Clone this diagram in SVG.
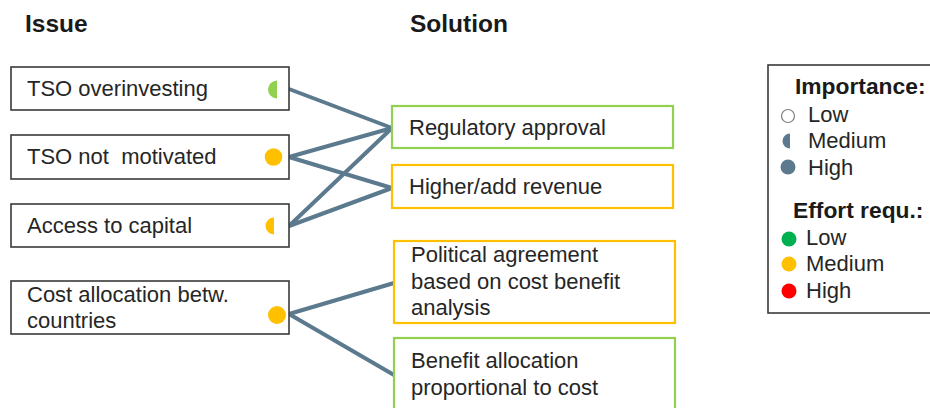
<svg xmlns="http://www.w3.org/2000/svg" width="930" height="408" viewBox="0 0 930 408">
<style>
text{font-family:"Liberation Sans",Arial,sans-serif;font-size:22px;fill:#262626}
.title{font-weight:bold;font-size:24.5px;fill:#1a1a1a}
.hdr{font-weight:bold;font-size:22.8px;fill:#1a1a1a}
.issue{fill:#fff;stroke:#3a3a3a;stroke-width:1.6}
.green{fill:#fff;stroke:#92d050;stroke-width:2.2}
.orange{fill:#fff;stroke:#ffc000;stroke-width:2.2}
.conn line{stroke:#5b7a8e;stroke-width:4;stroke-linecap:round}
</style>
<rect width="930" height="408" fill="#fff"/>
<text class="title" x="25" y="32">Issue</text>
<text class="title" x="410" y="32">Solution</text>

<g id="conns" class="conn">
<line x1="289" y1="89" x2="392" y2="128"/>
<line x1="289" y1="157" x2="392" y2="128"/>
<line x1="289" y1="157" x2="392" y2="188"/>
<line x1="289" y1="226" x2="392" y2="128"/>
<line x1="289" y1="226" x2="392" y2="188"/>
<line x1="289" y1="314" x2="394" y2="283"/>
<line x1="289" y1="314" x2="394" y2="375"/>
</g>

<g id="issue1">
<rect class="issue" x="11" y="67" width="278" height="43"/>
<text x="27" y="96">TSO overinvesting</text>
<path d="M277,80.5 A9,9 0 0 0 277,98.5 Z" fill="#92d050"/>
</g>
<g id="issue2">
<rect class="issue" x="11" y="135" width="278" height="44"/>
<text x="27" y="164" xml:space="preserve">TSO not  motivated</text>
<circle cx="273.5" cy="157" r="8.8" fill="#ffc000"/>
</g>
<g id="issue3">
<rect class="issue" x="11" y="204" width="278" height="43"/>
<text x="27" y="233">Access to capital</text>
<path d="M274,217.5 A8.5,8.5 0 0 0 274,234.5 Z" fill="#ffc000"/>
</g>
<g id="issue4">
<rect class="issue" x="11" y="281" width="278" height="53"/>
<text x="27" y="302">Cost allocation betw.</text>
<text x="27" y="328">countries</text>
<circle cx="277" cy="315" r="9" fill="#ffc000"/>
</g>

<g id="sol1">
<rect class="green" x="392" y="106" width="281" height="42"/>
<text x="409" y="135">Regulatory approval</text>
</g>
<g id="sol2">
<rect class="orange" x="392" y="165" width="281" height="43"/>
<text x="409" y="194">Higher/add revenue</text>
</g>
<g id="sol3">
<rect class="orange" x="394" y="241" width="281" height="82"/>
<text x="411" y="262">Political agreement</text>
<text x="411" y="289">based on cost benefit</text>
<text x="411" y="315">analysis</text>
</g>
<g id="sol4">
<rect class="green" x="394" y="338" width="281" height="80"/>
<text x="411" y="368">Benefit allocation</text>
<text x="411" y="395">proportional to cost</text>
</g>

<g id="legend">
<rect x="768" y="65" width="180" height="248" fill="#fff" stroke="#3a3a3a" stroke-width="1.6"/>
<text class="hdr" x="795" y="94">Importance:</text>
<circle cx="788" cy="116" r="6.5" fill="#fff" stroke="#7f7f7f" stroke-width="1.2"/>
<text x="808" y="122">Low</text>
<path d="M790,133.5 A7.5,7.5 0 0 0 790,148.5 Z" fill="#5b7a8e"/>
<text x="808" y="148">Medium</text>
<circle cx="788" cy="167" r="7.5" fill="#5b7a8e"/>
<text x="808" y="175">High</text>
<text class="hdr" x="793" y="218">Effort requ.:</text>
<circle cx="789" cy="239" r="7.5" fill="#00b050"/>
<text x="806" y="245">Low</text>
<circle cx="789" cy="264" r="7.5" fill="#ffc000"/>
<text x="806" y="271">Medium</text>
<circle cx="789" cy="291" r="7.5" fill="#ff0000"/>
<text x="806" y="298">High</text>
</g>
</svg>
